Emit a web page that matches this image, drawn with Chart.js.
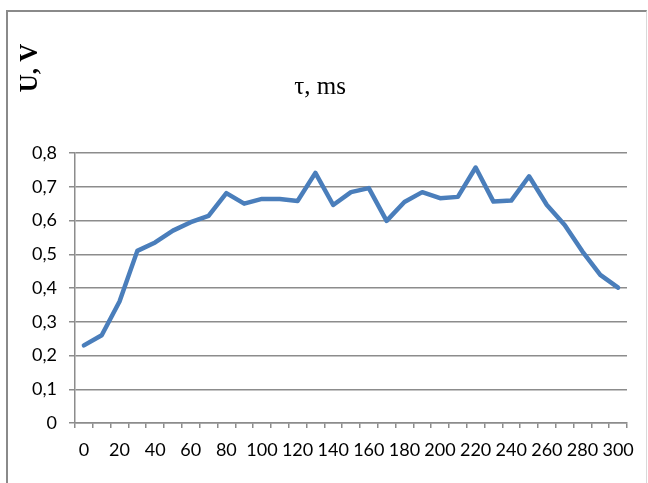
<!DOCTYPE html>
<html>
<head>
<meta charset="utf-8">
<title>U(τ)</title>
<script src="https://cdn.jsdelivr.net/npm/chart.js@4/dist/chart.umd.min.js"></script>
<style>
  html, body { margin: 0; padding: 0; background: #ffffff; }
  #wrap { position: relative; width: 648px; height: 483px; overflow: hidden; }
  #frame {
    position: absolute; left: 6px; top: 10px; width: 638px; height: 500px;
    border-left: 2px solid #8a8a8a; border-top: 2px solid #8a8a8a; border-right: 1px solid #d9d9d9;
  }
  #chart { position: absolute; left: 0; top: 0; }
</style>
</head>
<body>
<div id="wrap">
  <div id="frame"></div>
  <canvas id="chart" width="648" height="483"></canvas>
</div>
<script>
// Pulse duration, ms (one category per measurement)
const tau = [0, 10, 20, 30, 40, 50, 60, 70, 80, 90, 100, 110, 120, 130, 140, 150,
             160, 170, 180, 190, 200, 210, 220, 230, 240, 250, 260, 270, 280, 290, 300];
// Measured voltage, V
const voltage = [0.23, 0.26, 0.36, 0.51, 0.535, 0.57, 0.595, 0.614, 0.681, 0.65, 0.664,
                 0.664, 0.658, 0.741, 0.646, 0.684, 0.696, 0.599, 0.655, 0.684, 0.666,
                 0.67, 0.757, 0.656, 0.659, 0.731, 0.646, 0.587, 0.508, 0.439, 0.401];
// Axis tick labels
const xTickLabels = ['0', '20', '40', '60', '80', '100', '120', '140', '160', '180',
                     '200', '220', '240', '260', '280', '300'];
const yTickLabels = ['0', '0,1', '0,2', '0,3', '0,4', '0,5', '0,6', '0,7', '0,8'];
// Captions
const xCaption = 'τ, ms';
const yCaption = 'U, V';

const gridColor = '#8c8c8c';

// Axis captions drawn on the canvas
const captions = {
  id: 'captions',
  afterDraw(chart) {
    const ctx = chart.ctx;
    ctx.save();
    ctx.fillStyle = '#000000';
    ctx.textAlign = 'center';
    ctx.textBaseline = 'alphabetic';
    ctx.font = '25px "Liberation Serif", "Times New Roman", serif';
    ctx.fillText(xCaption, 320, 94);
    ctx.translate(37, 68);
    ctx.rotate(-Math.PI / 2);
    ctx.font = 'bold 25px "Liberation Serif", "Times New Roman", serif';
    ctx.fillText(yCaption, 0, 0);
    ctx.restore();
  }
};

Chart.defaults.font.family = 'Lato, "Open Sans", sans-serif';
Chart.defaults.font.size = 18;
Chart.defaults.color = '#000000';

new Chart(document.getElementById('chart'), {
  type: 'line',
  data: {
    labels: tau,
    datasets: [{
      data: voltage,
      borderColor: '#4a7ebb',
      borderWidth: 4.5,
      borderJoinStyle: 'round',
      borderCapStyle: 'round',
      pointRadius: 0,
      pointHoverRadius: 0,
      tension: 0,
      fill: false
    }]
  },
  options: {
    responsive: false,
    animation: false,
    events: [],
    layout: { padding: { left: 0, right: 21, top: 153, bottom: 0 } },
    plugins: {
      legend: { display: false },
      title: { display: false },
      tooltip: { enabled: false }
    },
    scales: {
      x: {
        type: 'category',
        offset: true,
        grid: {
          offset: true,
          drawOnChartArea: false,
          drawTicks: true,
          tickLength: 5,
          color: gridColor,
          lineWidth: 1.5
        },
        border: { display: true, color: gridColor, width: 1.5 },
        ticks: {
          autoSkip: false,
          maxRotation: 0,
          minRotation: 0,
          padding: 11,
          callback: function (value) {
            const lbl = String(this.getLabelForValue(value));
            return xTickLabels.includes(lbl) ? lbl : '';
          }
        },
        afterFit(scale) { scale.height = 60; }
      },
      y: {
        min: 0,
        max: 0.8,
        grid: {
          color: gridColor,
          lineWidth: 1.5,
          drawTicks: true,
          tickLength: 6
        },
        border: { display: true, color: gridColor, width: 1.5 },
        ticks: {
          stepSize: 0.1,
          padding: 12,
          callback: (value, index) => yTickLabels[index]
        },
        afterFit(scale) { scale.width = 75; }
      }
    }
  },
  plugins: [captions]
});
</script>
</body>
</html>
